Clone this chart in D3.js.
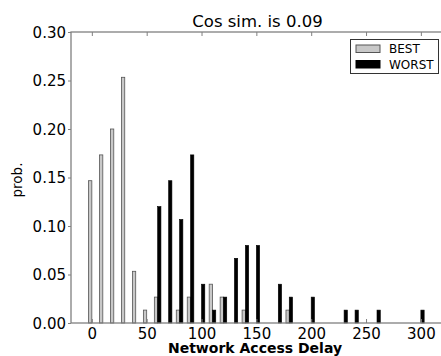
<!DOCTYPE html>
<html>
<head>
<meta charset="utf-8">
<script src="https://cdn.jsdelivr.net/npm/d3@7"></script>
<style>
  html, body { margin: 0; padding: 0; background: #fff; }
  svg { display: block; font-family: "DejaVu Sans", sans-serif; }
</style>
</head>
<body>
<svg id="chart" width="441" height="356"></svg>
<script>
// Delay bins (network access delay) and the probability of each bin
const bestDelays   = [0, 10, 20, 30, 40, 50, 60, 80, 90, 110, 120, 140, 180];
const bestProb     = [0.1467, 0.1733, 0.2000, 0.2533, 0.0533, 0.0133, 0.0267, 0.0133, 0.0267, 0.0400, 0.0267, 0.0133, 0.0133];
const worstDelays  = [60, 70, 80, 90, 100, 110, 120, 130, 140, 150, 170, 180, 200, 230, 240, 260, 300];
const worstProb    = [0.1200, 0.1467, 0.1067, 0.1733, 0.0400, 0.0133, 0.0267, 0.0667, 0.0800, 0.0800, 0.0400, 0.0267, 0.0267, 0.0133, 0.0133, 0.0133, 0.0133];
const xTicks = [0, 50, 100, 150, 200, 250, 300];
const yTicks = [0.00, 0.05, 0.10, 0.15, 0.20, 0.25, 0.30];
const seriesNames = ["BEST", "WORST"];
const titleText = "Cos sim. is 0.09";
const xLabel = "Network Access Delay";
const yLabel = "prob.";

const svg = d3.select("#chart");
const plotLeft = 71, plotRight = 445, plotTop = 32, plotBottom = 323;
const barW = 3;          // bar width in delay units
const spine = "#808080";

const x = d3.scaleLinear().domain([-19, 322]).range([plotLeft, plotRight]);
const y = d3.scaleLinear().domain([0, 0.30]).range([plotBottom, plotTop]);

svg.append("rect").attr("width", 441).attr("height", 356).attr("fill", "#fff");

// bars
const plot = svg.append("g");
plot.selectAll("rect.best")
  .data(bestDelays.map((d, i) => ({ d, p: bestProb[i] })))
  .join("rect")
  .attr("class", "best")
  .attr("x", v => x(v.d - barW))
  .attr("width", v => x(v.d) - x(v.d - barW))
  .attr("y", v => y(v.p))
  .attr("height", v => y(0) - y(v.p))
  .attr("fill", "#c8c8c8")
  .attr("stroke", "#555")
  .attr("stroke-width", 0.8);

plot.selectAll("rect.worst")
  .data(worstDelays.map((d, i) => ({ d, p: worstProb[i] })))
  .join("rect")
  .attr("class", "worst")
  .attr("x", v => x(v.d))
  .attr("width", v => x(v.d + barW) - x(v.d))
  .attr("y", v => y(v.p))
  .attr("height", v => y(0) - y(v.p))
  .attr("fill", "#000")
  .attr("stroke", "#000")
  .attr("stroke-width", 0.6);

// axes
const fontSize = 15;
const xAxis = d3.axisBottom(x).tickValues(xTicks).tickFormat(d3.format("d"))
  .tickSizeInner(-4).tickSizeOuter(0).tickPadding(5);
const gx = svg.append("g").attr("transform", `translate(0,${plotBottom})`).call(xAxis);
gx.select(".domain").remove();
gx.selectAll("line").attr("stroke", spine);
gx.selectAll("text").attr("font-size", fontSize).attr("fill", "#000")
  .attr("font-family", "DejaVu Sans").attr("dy", "0.71em");

const xTop = d3.axisTop(x).tickValues(xTicks).tickFormat("").tickSizeInner(-4).tickSizeOuter(0);
const gxt = svg.append("g").attr("transform", `translate(0,${plotTop})`).call(xTop);
gxt.select(".domain").remove();
gxt.selectAll("line").attr("stroke", spine);

const yAxis = d3.axisLeft(y).tickValues(yTicks).tickFormat(d3.format(".2f"))
  .tickSizeInner(3).tickSizeOuter(0).tickPadding(2);
const gy = svg.append("g").attr("transform", `translate(${plotLeft},0)`).call(yAxis);
gy.select(".domain").remove();
gy.selectAll("line").attr("stroke", spine);
gy.selectAll("text").attr("font-size", fontSize).attr("fill", "#000")
  .attr("font-family", "DejaVu Sans").attr("dy", "0.36em");

// spines
svg.append("rect")
  .attr("x", plotLeft).attr("y", plotTop)
  .attr("width", plotRight - plotLeft).attr("height", plotBottom - plotTop)
  .attr("fill", "none").attr("stroke", spine).attr("stroke-width", 1.3);

// title and labels
svg.append("text").attr("x", 257.5).attr("y", 27).attr("text-anchor", "middle")
  .attr("font-size", 16.5).text(titleText);
svg.append("text").attr("x", 255).attr("y", 353).attr("text-anchor", "middle")
  .attr("font-size", 14).attr("font-weight", "bold").text(xLabel);
svg.append("text").attr("transform", "translate(22,180) rotate(-90)")
  .attr("text-anchor", "middle").attr("font-size", 13.5).text(yLabel);

// legend
const lg = svg.append("g");
lg.append("rect").attr("x", 350.5).attr("y", 39.5).attr("width", 88).attr("height", 34)
  .attr("fill", "#fff").attr("stroke", "#333").attr("stroke-width", 1);
const legendFill = [["#c8c8c8", "#555"], ["#000", "#000"]];
seriesNames.forEach((name, i) => {
  const yy = 45 + i * 15.5;
  lg.append("rect").attr("x", 356).attr("y", yy).attr("width", 24).attr("height", 7.5)
    .attr("fill", legendFill[i][0]).attr("stroke", legendFill[i][1]).attr("stroke-width", 1);
  lg.append("text").attr("x", 389).attr("y", yy + 8).attr("font-size", 12).text(name);
});
</script>
</body>
</html>
